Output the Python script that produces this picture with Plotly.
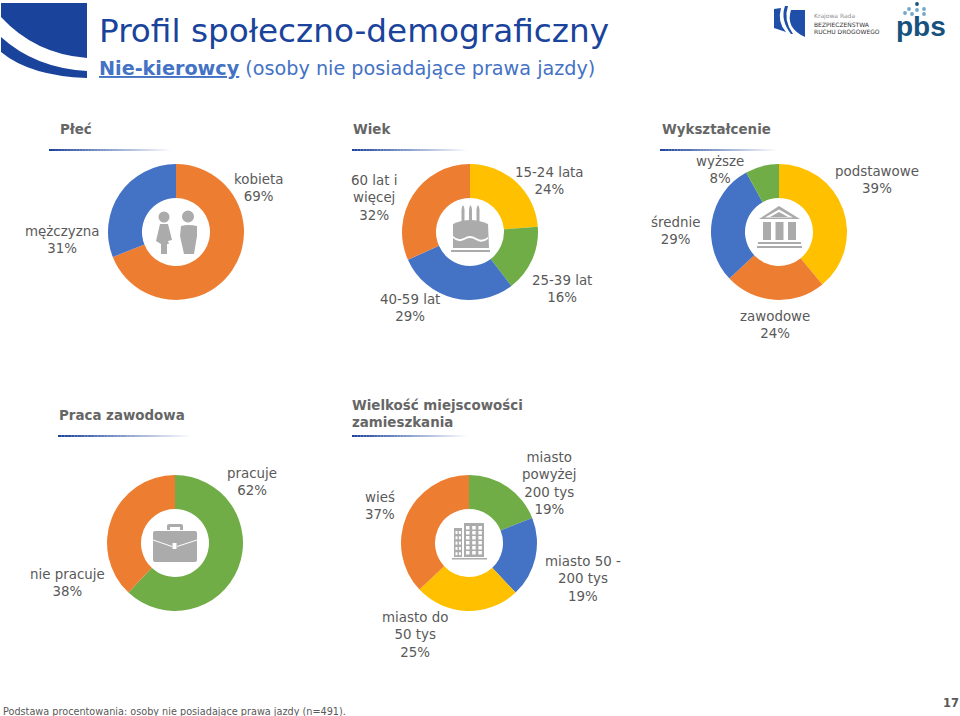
import plotly.graph_objects as go

# ---- data ----
plec_labels = ["kobieta", "mężczyzna"]
plec_values = [69, 31]
wiek_labels = ["15-24 lata", "25-39 lat", "40-59 lat", "60 lat i<br>więcej"]
wiek_values = [24, 16, 29, 32]
wyksz_labels = ["podstawowe", "zawodowe", "średnie", "wyższe"]
wyksz_values = [39, 24, 29, 8]
praca_labels = ["pracuje", "nie pracuje"]
praca_values = [62, 38]
miejsc_labels = ["miasto<br>powyżej<br>200 tys", "miasto 50 -<br>200 tys", "miasto do<br>50 tys", "wieś"]
miejsc_values = [19, 19, 25, 37]

ORANGE, BLUE, YELLOW, GREEN = "#ED7D31", "#4472C4", "#FFC000", "#70AD47"
GRAY_T = "#595959"
ICON = "#ABABAB"
NAVY = "#1A439C"
FONT = "DejaVu Sans"

W, H = 960, 716
R = 68

pies = [
    (176, 232, plec_labels, plec_values, [ORANGE, BLUE], [(258, 188), (62, 240)]),
    (470, 232, wiek_labels, wiek_values, [YELLOW, GREEN, BLUE, ORANGE],
     [(549, 181), (562, 289), (410, 308), (374, 198)]),
    (779, 232, wyksz_labels, wyksz_values, [YELLOW, ORANGE, BLUE, GREEN],
     [(877, 180), (775, 325), (675, 231), (720, 170)]),
    (175, 543, praca_labels, praca_values, [GREEN, ORANGE], [(252, 482), (67, 583)]),
    (469, 543, miejsc_labels, miejsc_values, [GREEN, BLUE, YELLOW, ORANGE],
     [(549, 483), (583, 579), (415, 635), (380, 506)]),
]

fig = go.Figure()
ann = []

def text(x, y, s, size=13.4, color=GRAY_T, anchor="center", bold=False, family=FONT, valign="middle"):
    ann.append(dict(x=x, y=y, xref="x", yref="y", text=f"<b>{s}</b>" if bold else s, showarrow=False,
                    font=dict(size=size, color=color, family=family), xanchor=anchor, yanchor=valign,
                    align="center" if anchor == "center" else "left", borderpad=0, bgcolor="rgba(0,0,0,0)"))

for cx, cy, labels, values, colors, lab_pos in pies:
    fig.add_trace(go.Pie(
        labels=[l.replace("<br>", " ") for l in labels], values=values, sort=False, direction="clockwise",
        rotation=0, hole=0.5, textinfo="none", hoverinfo="skip", showlegend=False,
        marker=dict(colors=colors, line=dict(width=0)),
        domain=dict(x=[(cx - R) / W, (cx + R) / W], y=[1 - (cy + R) / H, 1 - (cy - R) / H]),
    ))
    for lab, val, (lx, ly) in zip(labels, values, lab_pos):
        text(lx, ly, f"{lab}<br>{val}%")

shapes = []

def path(d, fill=ICON, **kw):
    shapes.append(dict(type="path", path=d, xref="x", yref="y", fillcolor=fill, line=dict(width=0), **kw))

def circle(cx, cy, r, fill=ICON):
    shapes.append(dict(type="circle", xref="x", yref="y", x0=cx - r, x1=cx + r, y0=cy - r, y1=cy + r,
                       fillcolor=fill, line=dict(width=0)))

def rect(x0, y0, x1, y1, fill=ICON, opacity=1):
    shapes.append(dict(type="rect", xref="x", yref="y", x0=x0, x1=x1, y0=y0, y1=y1, fillcolor=fill,
                       opacity=opacity, line=dict(width=0)))

def hline(x0, x1, y):
    n = 40
    for i in range(n):
        rect(x0 + (x1 - x0) * i / n, y - 1, x0 + (x1 - x0) * (i + 1) / n, y + 1, NAVY, 1 - i / n)

# section headers
for x0, x1, y in [(49, 170, 150), (352, 466, 150), (660, 776, 150), (58, 190, 436), (352, 466, 436)]:
    hline(x0, x1, y)
HEAD = "#666666"
text(59, 129, "Płeć", 13.4, HEAD, "left", True)
text(352, 129, "Wiek", 13.4, HEAD, "left", True)
text(661, 129, "Wykształcenie", 13.4, HEAD, "left", True)
text(58, 415, "Praca zawodowa", 13.4, HEAD, "left", True)
text(351, 414, "Wielkość miejscowości<br>zamieszkania", 13.4, HEAD, "left", True)

# title
text(98, 31, "Profil społeczno-demograficzny", 32.7, NAVY, "left")
text(98, 68, "<u><b>Nie-kierowcy</b></u> (osoby nie posiadające prawa jazdy)", 19.2, "#4472C4", "left")

# footer
text(2, 711, "Podstawa procentowania: osoby nie posiadające prawa jazdy (n=491).", 9.7, GRAY_T, "left")
text(951, 703, "17", 11.5, GRAY_T, "center", True)

# corner logo
path("M 1 3 L 87 3 L 87 58 Q 35 54 1 17 Z", NAVY)
path("M 1 37 Q 35 68 87 71 L 87 78 Q 30 76 1 52 Z", NAVY)

# KRBRD logo
path("M 774 9 L 781 8 Q 777 22 786 32 L 774 28 Z", "#1F4FA8")
path("M 785 6 L 788 6 Q 783 20 793 34 L 791 34 Q 780 20 785 6 Z", "#1F4FA8")
path("M 791 10 L 805 10 L 805 37 Q 785 28 791 10 Z", "#1F4FA8")
text(813, 16, "Krajowa Rada", 6, "#8C8C8C", "left")
text(813, 24, "BEZPIECZEŃSTWA", 6, "#333333", "left")
text(813, 31, "RUCHU DROGOWEGO", 6, "#333333", "left")

# pbs logo
text(921, 26, "<b>pbs</b>", 28, "#17527F", "center", family="Liberation Sans")
for dx, dy, c in [(917, 4, "#17527F"), (909, 9, "#6FA8C8"), (917, 10, "#6FA8C8"), (924, 9, "#6FA8C8"),
                  (905, 13, "#6FA8C8"), (912, 14, "#6FA8C8"), (924, 14, "#6FA8C8")]:
    circle(dx, dy, 1.9, c)

# people icon
circle(164, 217, 5.5)
path("M 160 224 L 168 224 L 172 240 L 168 241 L 169 244 L 167 244 L 167 254 L 161 254 L 161 244 L 156 241 Z")
circle(188, 216.5, 6)
path("M 181 226 Q 188 224 197 226 L 197 236 L 194 254 L 184 254 L 180 236 Z")

# cake icon
for x in (463, 470.5, 478):
    rect(x - 1.5, 210, x + 1.5, 221)
    path(f"M {x} 205 Q {x + 3} 210 {x} 212 Q {x - 3} 210 {x} 205 Z")
path("M 453 224 Q 470 216 488 224 L 489 248 L 453 248 Z")
path("M 453 236 Q 458 241 464 238 Q 470 234 476 238 Q 482 242 488 237 L 488 239 Q 482 244 476 240 Q 470 236 464 240 Q 458 243 453 238 Z", "white")
rect(451, 250, 490, 252)

# bank icon
path("M 779 206 L 800 219 L 759 219 Z")
path("M 779 209.5 L 793 217.5 L 765 217.5 Z", "white")
path("M 779 212 L 788 217 L 770 217 Z")
for x in (763, 775.5, 788):
    rect(x, 222, x + 8, 240)
rect(758, 242, 801, 244)
rect(757, 246, 802, 248)

# briefcase icon
path("M 167 530 L 167 526 Q 167 524 169 524 L 181 524 Q 183 524 183 526 L 183 530 L 180 530 L 180 527 L 170 527 L 170 530 Z")
path("M 155 531 L 195 531 Q 197 531 197 533 L 197 560 Q 197 562 195 562 L 155 562 Q 153 562 153 560 L 153 533 Q 153 531 155 531 Z")
path("M 153 539.5 L 172 546 L 172 547 L 153 540.5 Z", "white")
path("M 197 539.5 L 177 546 L 177 547 L 197 540.5 Z", "white")
rect(172.5, 543, 176.5, 549, "white")

# city icon
rect(454, 528, 462, 557)
rect(464, 523, 484, 557)
rect(452, 558, 487, 559.5)
for r in range(5):
    for c in range(2):
        rect(455.5 + c * 3.4, 531 + r * 5.3, 457.5 + c * 3.4, 534 + r * 5.3, "white")
for r in range(6):
    for c in range(3):
        rect(466 + c * 6.2, 526 + r * 5, 469.5 + c * 6.2, 529.5 + r * 5, "white")

fig.update_layout(
    width=W, height=H, margin=dict(l=0, r=0, t=0, b=0), autosize=False,
    paper_bgcolor="white", plot_bgcolor="white",
    xaxis=dict(visible=False, range=[0, W], fixedrange=True, domain=[0, 1]),
    yaxis=dict(visible=False, range=[H, 0], fixedrange=True, domain=[0, 1]),
    shapes=shapes, annotations=ann, font=dict(family=FONT),
)
# invisible carrier so the pixel-scaled axes exist alongside the pies
fig.add_trace(go.Scatter(x=[], y=[], xaxis="x", yaxis="y", showlegend=False, hoverinfo="skip"))

fig.write_html("out.html", config=dict(displayModeBar=False),
               post_script="document.body.style.margin='0';")
